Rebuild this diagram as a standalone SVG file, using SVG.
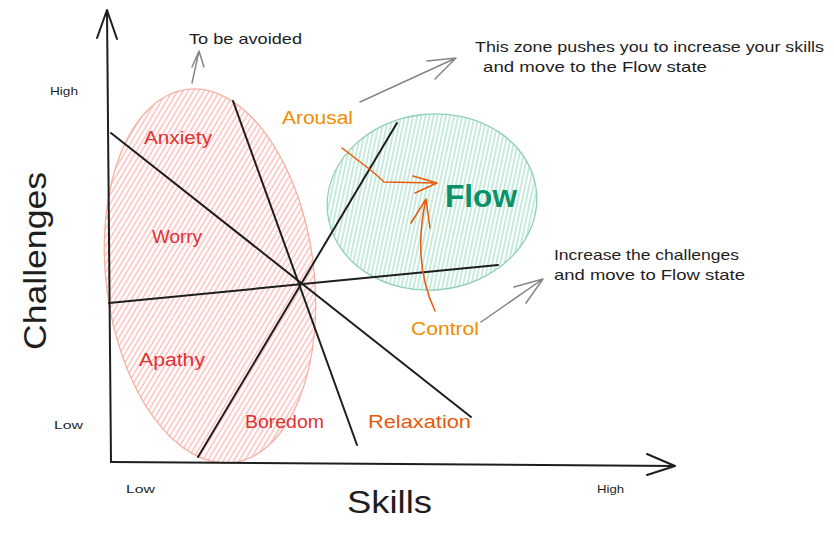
<svg xmlns="http://www.w3.org/2000/svg" width="834" height="536" viewBox="0 0 834 536">
<style>
text{font-family:"Liberation Sans","Noto Sans",sans-serif;}
.ax{stroke:#1e1e1e;stroke-width:2;fill:none;stroke-linecap:round;stroke-linejoin:round;}
.div{stroke:#1e1e1e;stroke-width:2;fill:none;stroke-linecap:round;}
.gr{stroke:#868686;stroke-width:1.5;fill:none;stroke-linecap:round;stroke-linejoin:round;}
.or{stroke:#e8590c;stroke-width:1.5;fill:none;stroke-linecap:round;stroke-linejoin:round;}
.blk{fill:#1e1e1e;}
.red{fill:#e03131;font-size:18px;}
.org{fill:#f08c00;font-size:18px;}
.small{fill:#1e1e1e;font-size:11px;}
.note{fill:#1e1e1e;font-size:15px;}
</style>
<defs>
<pattern id="hpink" width="4.5" height="4.5" patternUnits="userSpaceOnUse" patternTransform="rotate(38)">
<line x1="1" y1="0" x2="1" y2="4.5" stroke="#ffbcbc" stroke-width="1.4"/>
</pattern>
<pattern id="hgreen" width="4" height="4" patternUnits="userSpaceOnUse" patternTransform="rotate(18)">
<line x1="1" y1="0" x2="1" y2="4" stroke="#9fdec4" stroke-width="1.2"/>
</pattern>
</defs>
<rect width="834" height="536" fill="#ffffff"/>

<g id="zone-avoid">
<ellipse cx="210" cy="276" rx="104" ry="188" transform="rotate(-7 210 276)" fill="url(#hpink)" stroke="#f4b2a2" stroke-width="1.3"/>
</g>
<g id="zone-flow">
<ellipse cx="432" cy="202" rx="105" ry="88" transform="rotate(-6 432 202)" fill="url(#hgreen)" stroke="#8ed1b2" stroke-width="1.3"/>
</g>

<g id="axes">
<path class="ax" d="M111,462 L107,10 M97,38 L107,10 L117,39"/>
<path class="ax" d="M111,462 L675,466 M647,454 L675,466 L647,475"/>
</g>

<g id="dividers">
<line class="div" x1="111" y1="133" x2="471" y2="417"/>
<line class="div" x1="233" y1="101" x2="357" y2="445"/>
<line class="div" x1="397" y1="123" x2="198" y2="457"/>
<line class="div" x1="109" y1="303" x2="498" y2="265"/>
</g>

<g id="connectors">
<path class="gr" d="M192,83 L199,51 M192,67 L199,51 L204,67"/>
<path class="gr" d="M360,102 L456,58 M427,61 L456,58 L435,79"/>
<path class="gr" d="M481,322 L543,279 M514,287 L543,279 L526,303"/>
<path class="or" d="M342,148 L368,168 Q378,176 384,182 L437,183 M413,176 L437,183 L415,193"/>
<path class="or" d="M435,311 Q412,262 426,199 M411,223 L426,199 L430,228"/>
</g>

<g id="label-challenges">
<text class="blk" font-size="32" text-anchor="middle" textLength="178" lengthAdjust="spacingAndGlyphs" transform="translate(46,261) rotate(-90)">Challenges</text>
</g>
<g id="label-skills">
<text class="blk" x="347" y="513" font-size="32" textLength="85" lengthAdjust="spacingAndGlyphs">Skills</text>
</g>
<g id="ticks">
<text class="small" x="50" y="95" textLength="28" lengthAdjust="spacingAndGlyphs">High</text>
<text class="small" x="54" y="429" textLength="29" lengthAdjust="spacingAndGlyphs">Low</text>
<text class="small" x="126" y="493" textLength="29" lengthAdjust="spacingAndGlyphs">Low</text>
<text class="small" x="597" y="493" textLength="27" lengthAdjust="spacingAndGlyphs">High</text>
</g>

<g id="state-anxiety"><text class="red" x="144" y="144" textLength="68" lengthAdjust="spacingAndGlyphs">Anxiety</text></g>
<g id="state-worry"><text class="red" x="152" y="243" textLength="50" lengthAdjust="spacingAndGlyphs">Worry</text></g>
<g id="state-apathy"><text class="red" x="139" y="366" textLength="66" lengthAdjust="spacingAndGlyphs">Apathy</text></g>
<g id="state-boredom"><text class="red" x="245" y="428" textLength="79" lengthAdjust="spacingAndGlyphs">Boredom</text></g>
<g id="state-relaxation"><text x="368" y="428" font-size="18" fill="#e8590c" textLength="103" lengthAdjust="spacingAndGlyphs">Relaxation</text></g>
<g id="state-arousal"><text class="org" x="282" y="124" textLength="71" lengthAdjust="spacingAndGlyphs">Arousal</text></g>
<g id="state-control"><text class="org" x="411" y="335" textLength="68" lengthAdjust="spacingAndGlyphs">Control</text></g>
<g id="state-flow"><text x="445" y="207" font-size="32" font-weight="bold" fill="#099268" textLength="72" lengthAdjust="spacingAndGlyphs">Flow</text></g>

<g id="note-avoid"><text class="note" x="189" y="44" textLength="113" lengthAdjust="spacingAndGlyphs">To be avoided</text></g>
<g id="note-arousal">
<text class="note" x="475" y="52" textLength="349" lengthAdjust="spacingAndGlyphs">This zone pushes you to increase your skills</text>
<text class="note" x="483" y="72" textLength="224" lengthAdjust="spacingAndGlyphs">and move to the Flow state</text>
</g>
<g id="note-control">
<text class="note" x="554" y="260" textLength="185" lengthAdjust="spacingAndGlyphs">Increase the challenges</text>
<text class="note" x="554" y="280" textLength="191" lengthAdjust="spacingAndGlyphs">and move to Flow state</text>
</g>
</svg>
